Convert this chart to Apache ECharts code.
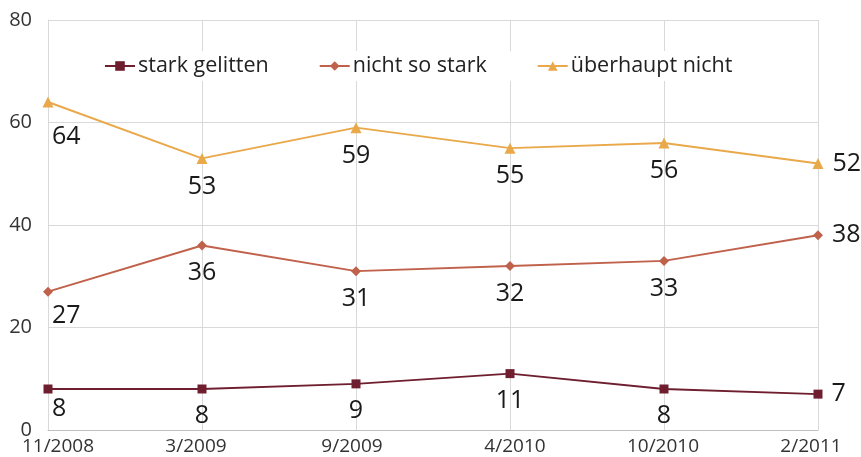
<!DOCTYPE html>
<html><head><meta charset="utf-8">
<script src="https://cdn.jsdelivr.net/npm/echarts@6/dist/echarts.min.js"></script>
<style>html,body{margin:0;padding:0;background:#fff}#c{width:861px;height:457px}</style>
</head><body><div id="c"></div>
<script>
const categories = ['11/2008','3/2009','9/2009','4/2010','10/2010','2/2011'];
const starkGelitten = [8, 8, 9, 11, 8, 7];
const nichtSoStark = [27, 36, 31, 32, 33, 38];
const ueberhauptNicht = [64, 53, 59, 55, 56, 52];
const yTicks = [0, 20, 40, 60, 80];

const FONT = '"Open Sans", sans-serif';
function labelled(values, firstOffsetY) {
  const n = values.length;
  return values.map((v, i) => {
    if (i === 0) return {value: v, label: {position: 'bottom', align: 'left', distance: 0, offset: [4, firstOffsetY]}};
    if (i === n - 1) return {value: v, label: {position: 'right', distance: 9}};
    return {value: v, label: {position: 'bottom', distance: 10}};
  });
}
const labelStyle = {show: true, fontFamily: FONT, fontSize: 25, color: '#1a1a1a'};

// small horizontal nudges of the category labels (layout only)
const xShift = [10, -6, -4, 5, -1, -7];
const rich = {};
xShift.forEach((s, i) => {
  rich['l' + i] = {fontFamily: FONT, fontSize: 19, color: '#333',
    padding: s >= 0 ? [0, 0, 0, 2 * s] : [0, -2 * s, 0, 0]};
});

const chart = echarts.init(document.getElementById('c'), null, {renderer: 'canvas'});
chart.setOption({
  animation: false,
  backgroundColor: '#fff',
  grid: {left: 48, right: 43, top: 20, bottom: 27, containLabel: false},
  legend: {
    top: 51, left: 98, itemGap: 50, itemWidth: 30, itemHeight: 12,
    backgroundColor: '#fff', padding: [4, 6],
    textStyle: {fontFamily: FONT, fontSize: 21.5, color: '#222', padding: [0, 0, 0, -2]},
    data: ['stark gelitten', 'nicht so stark', 'überhaupt nicht']
  },
  xAxis: {
    type: 'category', data: categories, boundaryGap: false,
    axisLine: {lineStyle: {color: '#bfbfbf', width: 1}},
    axisTick: {show: false},
    axisLabel: {fontFamily: FONT, fontSize: 19, color: '#333', margin: 7,
      formatter: (v, i) => '{l' + i + '|' + v + '}', rich: rich},
    splitLine: {show: true, lineStyle: {color: '#d9d9d9', width: 1}}
  },
  yAxis: {
    type: 'value', min: yTicks[0], max: yTicks[yTicks.length - 1], interval: 20,
    axisLine: {show: true, lineStyle: {color: '#d9d9d9'}},
    axisTick: {show: false},
    axisLabel: {fontFamily: FONT, fontSize: 20, color: '#333', margin: 16},
    splitLine: {lineStyle: {color: '#d9d9d9', width: 1}}
  },
  series: [
    {name: 'stark gelitten', type: 'line', data: labelled(starkGelitten, 3),
     symbol: 'rect', symbolSize: 9, color: '#6e1e2f', lineStyle: {width: 2},
     label: labelStyle},
    {name: 'nicht so stark', type: 'line', data: labelled(nichtSoStark, 7),
     symbol: 'diamond', symbolSize: 10, color: '#c0614b', lineStyle: {width: 2},
     label: labelStyle},
    {name: 'überhaupt nicht', type: 'line', data: labelled(ueberhauptNicht, 17),
     symbol: 'triangle', symbolSize: 11, color: '#e9a94a', lineStyle: {width: 2},
     label: labelStyle}
  ]
});
</script></body></html>
